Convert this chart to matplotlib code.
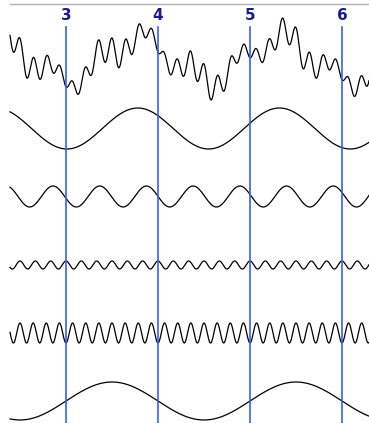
import numpy as np
import matplotlib.pyplot as plt

# component waves (amplitude in px, period and crest position in x units)
periods = [1.54, 0.5076, 1 / 6, 1 / 7, 2.0]
amplitudes = [20.5, 10.5, 4.0, 10.0, 19.0]
crests = [3.78, 2.859, 3.0, 3.0714, 3.5]
row_centers = [128.5, 196.5, 265.0, 333.0, 401.0]
in_sum = [True, True, True, True, False]

sum_center = 59.0
sum_top, sum_bottom = 18.0, 100.0

marker_pos = [3, 4, 5, 6]
marker_labels = ['3', '4', '5', '6']

W, H = 369, 423
px_per_unit = 92.0
x_at_px0 = 3 - 66 / px_per_unit

fig = plt.figure(figsize=(W / 100, H / 100), dpi=100)
ax = fig.add_axes([0, 0, 1, 1])
ax.set_xlim(x_at_px0, x_at_px0 + W / px_per_unit)
ax.set_ylim(H, 0)
ax.axis('off')

x = np.linspace(x_at_px0 + 10 / px_per_unit, x_at_px0 + W / px_per_unit, 2000)

total = np.zeros_like(x)
for T, A, c, yc, s in zip(periods, amplitudes, crests, row_centers, in_sum):
    wave = A * np.cos(2 * np.pi * (x - c) / T)
    ax.plot(x, yc - wave, color='black', lw=0.9)
    if s:
        total += wave

# composite, fitted to its band
total = (total - total.min()) / (total.max() - total.min())
ax.plot(x, sum_bottom - total * (sum_bottom - sum_top), color='black', lw=0.9)

for p, lab in zip(marker_pos, marker_labels):
    ax.plot([p, p], [27, H], color='#3a5cff', lw=1.2)
    ax.text(p, 16, lab, ha='center', va='center', color='#1c1c8c',
            fontsize=11, fontweight='bold')

# header rule
ax.plot([x_at_px0 + 10 / px_per_unit, x_at_px0 + W / px_per_unit], [4, 4],
        color='#b0b0b0', lw=1.0)

fig.savefig('out.png', dpi=100)
